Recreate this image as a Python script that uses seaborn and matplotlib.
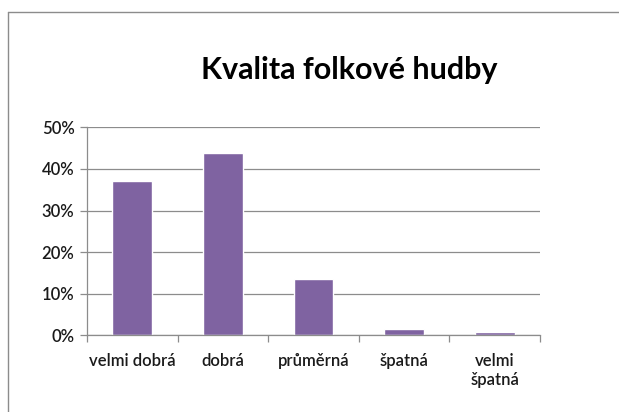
import matplotlib
matplotlib.use("Agg")
import matplotlib.pyplot as plt
import seaborn as sns
import pandas as pd
from matplotlib.lines import Line2D
from matplotlib.ticker import PercentFormatter

# data
categories = ["velmi dobrá", "dobrá", "průměrná", "špatná", "velmi\nšpatná"]
values = [37.0, 43.8, 13.5, 1.5, 0.7]

sns.set_theme(style="white")
plt.rcParams['font.family'] = ['Lato', 'DejaVu Sans']

df = pd.DataFrame({'kategorie': categories, 'podil': values})

fig = plt.figure(figsize=(6.19, 4.12), dpi=100)
fig.patch.set_facecolor('white')
ax = fig.add_axes([0.1405, 0.186, 0.7319, 0.505])

sns.barplot(data=df, x='kategorie', y='podil', color='#7F63A1', saturation=1,
            width=0.44, ax=ax)

ax.set_ylim(0, 50)
ax.set_xlim(-0.5, 4.5)
ax.set_yticks([0, 10, 20, 30, 40, 50])
ax.yaxis.set_major_formatter(PercentFormatter(decimals=0))
ax.yaxis.grid(True, color='#8C8C8C', linewidth=0.9)
ax.set_axisbelow(True)
for s in ['top', 'right']:
    ax.spines[s].set_visible(False)
for s in ['left', 'bottom']:
    ax.spines[s].set_color('#8C8C8C')
    ax.spines[s].set_linewidth(0.9)

ax.tick_params(axis='y', length=5, width=0.9, color='#8C8C8C', direction='out',
               labelsize=12, pad=4, left=True)
ax.tick_params(axis='x', which='major', length=0, labelsize=12, pad=13)
ax.set_xticks([-0.5, 0.5, 1.5, 2.5, 3.5, 4.5], minor=True)
ax.tick_params(axis='x', which='minor', length=5, width=0.9, color='#8C8C8C',
               direction='out', bottom=True)
for lbl in ax.get_xticklabels() + ax.get_yticklabels():
    lbl.set_fontweight('semibold')
    lbl.set_color('#1a1a1a')
ax.set_xlabel('')
ax.set_ylabel('')

fig.text(0.565, 0.83, 'Kvalita folkové hudby', ha='center', va='center',
         fontsize=22, fontweight='bold', color='black')

# outer chart frame (only top and left edges are visible in the crop)
x0, y0 = 7.5 / 619, (412 - 11.5) / 412
fig.add_artist(Line2D([x0, 1.0], [y0, y0], transform=fig.transFigure,
                      color='#8C8C8C', linewidth=1.0))
fig.add_artist(Line2D([x0, x0], [0.0, y0], transform=fig.transFigure,
                      color='#8C8C8C', linewidth=1.0))

fig.savefig('out.png', dpi=100)
